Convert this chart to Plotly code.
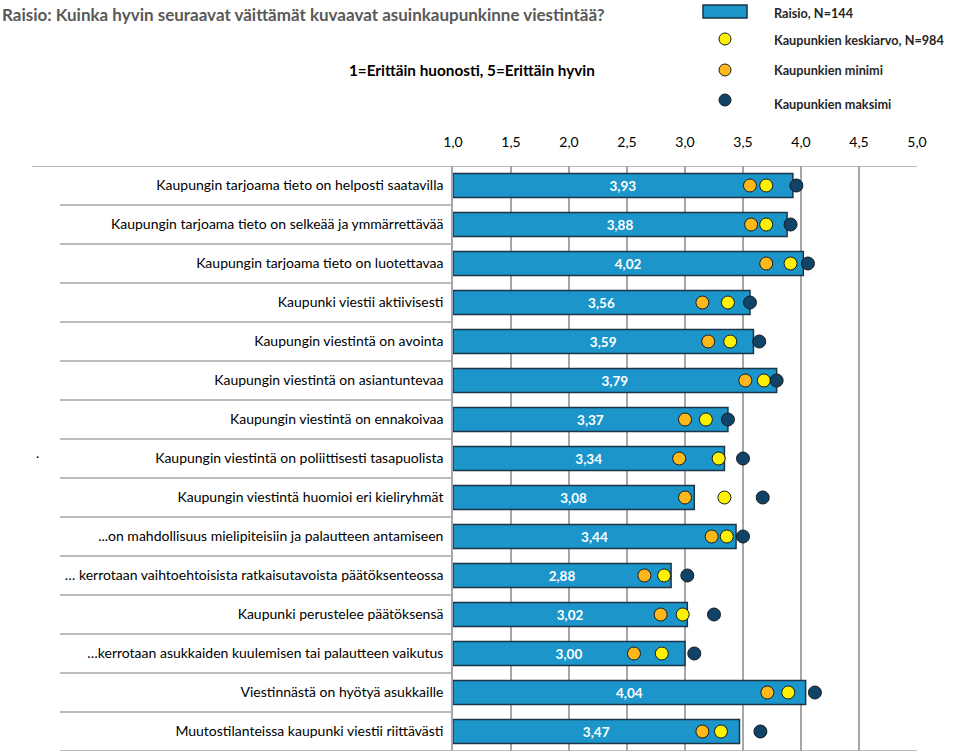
import plotly.graph_objects as go

categories = [
    "Kaupungin tarjoama tieto on helposti saatavilla",
    "Kaupungin tarjoama tieto on selkeää ja ymmärrettävää",
    "Kaupungin tarjoama tieto on luotettavaa",
    "Kaupunki viestii aktiivisesti",
    "Kaupungin viestintä on avointa",
    "Kaupungin viestintä on asiantuntevaa",
    "Kaupungin viestintä on ennakoivaa",
    "Kaupungin viestintä on poliittisesti tasapuolista",
    "Kaupungin viestintä huomioi eri kieliryhmät",
    "...on mahdollisuus mielipiteisiin ja palautteen antamiseen",
    "… kerrotaan vaihtoehtoisista ratkaisutavoista päätöksenteossa",
    "Kaupunki perustelee päätöksensä",
    "…kerrotaan asukkaiden kuulemisen tai palautteen vaikutus",
    "Viestinnästä on hyötyä asukkaille",
    "Muutostilanteissa kaupunki viestii riittävästi",
]
raisio = [3.93, 3.88, 4.02, 3.56, 3.59, 3.79, 3.37, 3.34, 3.08, 3.44, 2.88, 3.02, 3.00, 4.04, 3.47]
city_mean = [3.70, 3.70, 3.91, 3.37, 3.39, 3.68, 3.18, 3.29, 3.34, 3.36, 2.82, 2.98, 2.80, 3.89, 3.31]
city_min = [3.56, 3.57, 3.70, 3.15, 3.20, 3.52, 3.00, 2.95, 3.00, 3.23, 2.65, 2.79, 2.56, 3.71, 3.15]
city_max = [3.96, 3.91, 4.06, 3.56, 3.64, 3.79, 3.37, 3.50, 3.67, 3.50, 3.02, 3.25, 3.08, 4.12, 3.65]
tick_vals = [1.0, 1.5, 2.0, 2.5, 3.0, 3.5, 4.0, 4.5, 5.0]
tick_text = ["1,0", "1,5", "2,0", "2,5", "3,0", "3,5", "4,0", "4,5", "5,0"]
legend_labels = ["Raisio, N=144", "Kaupunkien keskiarvo, N=984", "Kaupunkien minimi", "Kaupunkien maksimi"]
title_text = "Raisio: Kuinka hyvin seuraavat väittämät kuvaavat asuinkaupunkinne viestintää?"
subtitle_text = "1=Erittäin huonosti, 5=Erittäin hyvin"

BAR = "#1B95CA"
BAR_LINE = "#1C3447"
YELLOW = "#FFF200"
ORANGE = "#FFB81C"
DARK = "#0F4468"
GRID = "#A6A6A6"
FONT = "Lato"

W, H = 960, 752
L, R, T, B = 453, 917, 166, 751


def px(x):
    return (x - L) / (R - L)


def py(y):
    return (B - y) / (B - T)


n = len(categories)
ys = list(range(n))

fig = go.Figure()
fig.add_trace(go.Bar(
    y=ys, x=[v - 1 for v in raisio], base=1, orientation="h",
    marker=dict(color=BAR, line=dict(color=BAR_LINE, width=1.5)),
    width=0.62,
    text=[f"{v:.2f}".replace(".", ",") for v in raisio],
    textposition="inside", insidetextanchor="middle",
    textfont=dict(color="white", size=13.5, family=FONT, weight="bold"),
    showlegend=False, name="Raisio",
))
for vals, col, nm in [(city_min, ORANGE, "min"), (city_mean, YELLOW, "mean"), (city_max, DARK, "max")]:
    fig.add_trace(go.Scatter(
        y=ys, x=vals, mode="markers",
        marker=dict(size=13, color=col, line=dict(color="#1a1a1a", width=1)),
        showlegend=False, name=nm, cliponaxis=False,
    ))

shapes = []
for k in range(n + 1):
    x0 = px(32) if k == 0 else px(60)
    x1 = 1 if k == 0 or k == n else 0
    shapes.append(dict(type="line", xref="paper", yref="y", x0=x0, x1=x1,
                       y0=k - 0.5, y1=k - 0.5, line=dict(color=GRID, width=1.5)))
shapes.append(dict(type="rect", xref="paper", yref="paper", x0=px(703), x1=px(747),
                   y0=py(18), y1=py(5), fillcolor=BAR, line=dict(color=BAR_LINE, width=1.5)))
for yy, col in [(39, YELLOW), (70, ORANGE), (100, DARK)]:
    shapes.append(dict(type="circle", xref="paper", yref="paper", x0=px(719), x1=px(731),
                       y0=py(yy + 6), y1=py(yy - 6), fillcolor=col,
                       line=dict(color="#1a1a1a", width=1)))

annotations = [
    dict(text=title_text, xref="paper", yref="paper", x=px(0), y=py(14), xanchor="left",
         yanchor="middle", showarrow=False, font=dict(family=FONT, size=17, color="#595959", weight="bold")),
    dict(text=subtitle_text, xref="paper", yref="paper", x=px(597), y=py(70), xanchor="right",
         yanchor="middle", showarrow=False, font=dict(family=FONT, size=15.3, color="#000000", weight="bold")),
    dict(text=".", xref="paper", yref="paper", x=px(37), y=py(452), xanchor="center",
         yanchor="middle", showarrow=False, font=dict(family=FONT, size=14, color="#000000")),
]
for lab, yy in zip(legend_labels, [13, 40, 70, 104]):
    annotations.append(dict(text=lab, xref="paper", yref="paper", x=px(772), y=py(yy),
                            xanchor="left", yanchor="middle", showarrow=False,
                            font=dict(family=FONT, size=12.7, color="#262626", weight="bold")))

fig.update_layout(
    width=W, height=H,
    margin=dict(l=L, r=W - R, t=T, b=H - B, pad=0),
    plot_bgcolor="white", paper_bgcolor="white",
    shapes=shapes, annotations=annotations,
    xaxis=dict(range=[1, 5], side="top", tickvals=tick_vals, ticktext=tick_text,
               showgrid=True, gridcolor=GRID, gridwidth=1.5, zeroline=False,
               showline=False, ticks="", ticklabelstandoff=15,
               tickfont=dict(family=FONT, size=14, color="#000000"), fixedrange=True),
    yaxis=dict(range=[n - 0.5, -0.5], tickvals=ys, ticktext=categories,
               showgrid=False, zeroline=False, showline=True, linecolor=GRID, linewidth=1.5,
               ticks="", ticklabelstandoff=5,
               tickfont=dict(family=FONT, size=14, color="#000000"), fixedrange=True),
)

fig.write_html("out.html", config={"displayModeBar": False},
               post_script="document.body.style.margin='0';")
